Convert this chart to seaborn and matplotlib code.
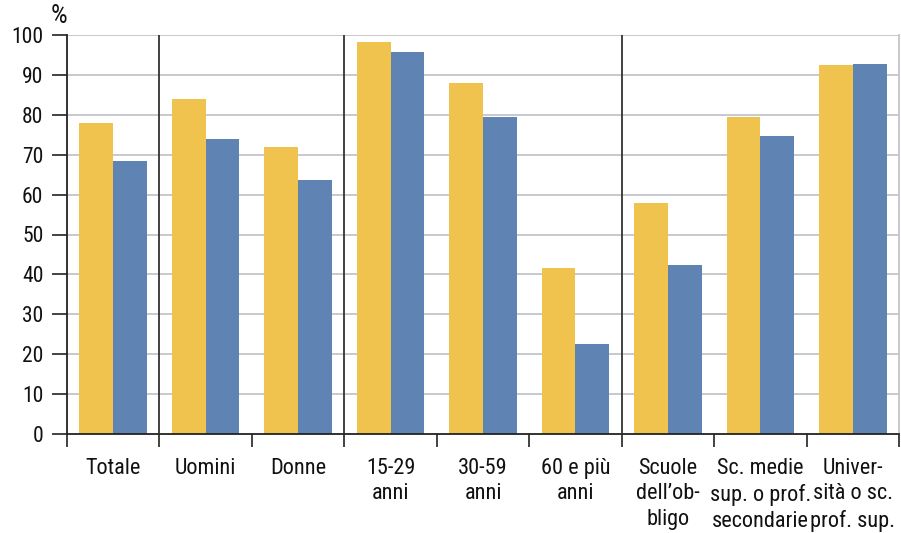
import numpy as np
import pandas as pd
import matplotlib
matplotlib.use('Agg')
import matplotlib.pyplot as plt
import seaborn as sns

# Categories and values
categories = ['Totale', 'Uomini', 'Donne', '15-29\nanni', '30-59\nanni',
              '60 e più\nanni', 'Scuole\ndell’ob-\nbligo',
              'Sc. medie\nsup. o prof.\nsecondarie', 'Univer-\nsità o sc.\nprof. sup.']
series_names = ['A', 'B']
values_a = [78.0, 84.0, 72.0, 98.2, 88.0, 41.6, 57.9, 79.5, 92.5]
values_b = [68.5, 74.0, 63.7, 95.7, 79.4, 22.6, 42.4, 74.7, 92.7]
y_ticks = list(range(0, 101, 10))
separators = [0.5, 2.5, 5.5]

colors = ['#F0C24E', '#5F84B4']

sns.set_theme(style='white')
plt.rcParams['font.family'] = ['Roboto Condensed', 'DejaVu Sans']

df = pd.DataFrame({
    'cat': categories * 2,
    'serie': [series_names[0]] * len(categories) + [series_names[1]] * len(categories),
    'val': values_a + values_b,
})

fig = plt.figure(figsize=(9.01, 5.33), dpi=100)
ax = fig.add_axes([67 / 901, 99 / 533, 832 / 901, 399 / 533])

sns.barplot(data=df, x='cat', y='val', hue='serie', order=categories,
            hue_order=series_names, palette=colors, width=0.73, gap=0,
            saturation=1, linewidth=0, legend=False, ax=ax)

ax.set_xlim(-0.5, len(categories) - 0.5)
ax.set_ylim(0, 100)
ax.set_yticks(y_ticks)
ax.set_yticklabels([str(t) for t in y_ticks], fontsize=15.5, color='#111111')
ax.set_xlabel('')
ax.set_ylabel('')

# grid lines
for t in y_ticks[1:]:
    ax.axhline(t, color='#C4C5CC', linewidth=1.3, zorder=0)
for s in separators:
    ax.axvline(s, color='#333333', linewidth=1.3, zorder=3)

# boundary ticks on the x axis
ax.set_xticks(np.arange(-0.5, len(categories)), minor=True)
ax.tick_params(axis='x', which='minor', length=9, width=1.2, color='#222222',
               direction='out', bottom=True)
ax.tick_params(axis='x', which='major', length=0, pad=17, labelsize=16,
               labelcolor='#111111')
ax.tick_params(axis='y', which='major', length=11, width=1.2, color='#222222',
               direction='out', left=True, pad=6)
for lab in ax.get_xticklabels():
    lab.set_linespacing(1.3)
    lab.set_verticalalignment('top')

ax.spines['top'].set_visible(False)
ax.spines['right'].set_color('#C4C5CC')
ax.spines['right'].set_linewidth(1.3)
ax.spines['left'].set_color('#222222')
ax.spines['bottom'].set_color('#222222')
ax.spines['left'].set_linewidth(1.3)
ax.spines['bottom'].set_linewidth(1.3)

ax.annotate('%', xy=(0, 1), xycoords='axes fraction', xytext=(0, 7),
            textcoords='offset pixels', ha='right', va='bottom', fontsize=19,
            color='#111111')

fig.savefig('out.png', dpi=100)
